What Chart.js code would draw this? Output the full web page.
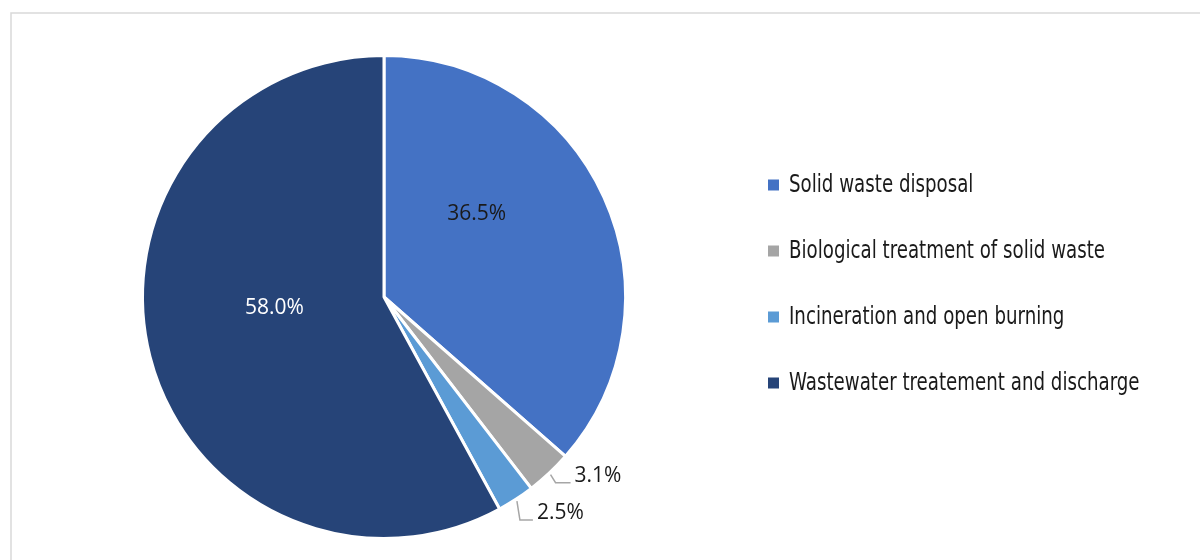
<!DOCTYPE html>
<html>
<head>
<meta charset="utf-8">
<script src="https://cdn.jsdelivr.net/npm/chart.js@4.4.1/dist/chart.umd.min.js"></script>
<style>
  html, body { margin: 0; padding: 0; background: #fff; }
  #wrap { width: 1200px; height: 560px; position: relative; }
</style>
</head>
<body>
<div id="wrap"><canvas id="c" width="1200" height="560"></canvas></div>
<script>
// ---- data ----
const categories = [
  "Solid waste disposal",
  "Biological treatment of solid waste",
  "Incineration and open burning",
  "Wastewater treatement and discharge"
];
const shares = [36.5, 3.1, 2.5, 58.0];
const valueLabels = ["36.5%", "3.1%", "2.5%", "58.0%"];
const sliceColors = ["#4472C4", "#A5A5A5", "#5B9BD5", "#264478"];

// ---- label placement (style/layout, not data) ----
const labelLayout = [
  { mode: "inside", rFrac: 0.515, angleAdj: -17.4, color: "#1a1a1a" },
  { mode: "outside", elbow: [5, 8], run: 15 },
  { mode: "outside", elbow: [3, 19], run: 13 },
  { mode: "inside", rFrac: 0.456, angleAdj: 8.5, color: "#ffffff" }
];
const labelFont = '21px "Open Sans", "Noto Sans", sans-serif';
const legendFont = '25px "DejaVu Sans Condensed", "DejaVu Sans", sans-serif';
const legendXScale = 0.81;

const framePlugin = {
  id: "frame",
  beforeDraw(chart) {
    const ctx = chart.ctx;
    ctx.save();
    ctx.fillStyle = "#ffffff";
    ctx.fillRect(0, 0, chart.width, chart.height);
    ctx.strokeStyle = "#D9D9D9";
    ctx.lineWidth = 1.5;
    ctx.beginPath();
    ctx.moveTo(11, chart.height + 2);
    ctx.lineTo(11, 13);
    ctx.lineTo(chart.width + 2, 13);
    ctx.stroke();
    ctx.restore();
  }
};

const labelsPlugin = {
  id: "pieLabels",
  afterDatasetsDraw(chart) {
    const ctx = chart.ctx;
    const meta = chart.getDatasetMeta(0);
    ctx.save();
    ctx.font = labelFont;
    meta.data.forEach((arc, i) => {
      const p = arc.getProps(["x", "y", "startAngle", "endAngle", "outerRadius"], true);
      const mid = (p.startAngle + p.endAngle) / 2;
      const L = labelLayout[i];
      if (L.mode === "inside") {
        const a = mid + L.angleAdj * Math.PI / 180;
        const r = p.outerRadius * L.rFrac;
        ctx.fillStyle = L.color;
        ctx.textAlign = "center";
        ctx.textBaseline = "middle";
        ctx.fillText(valueLabels[i], p.x + Math.cos(a) * r, p.y + Math.sin(a) * r);
      } else {
        const ex = p.x + Math.cos(mid) * (p.outerRadius + 2);
        const ey = p.y + Math.sin(mid) * (p.outerRadius + 2);
        const bx = ex + L.elbow[0], by = ey + L.elbow[1];
        ctx.strokeStyle = "#A6A6A6";
        ctx.lineWidth = 1.5;
        ctx.beginPath();
        ctx.moveTo(ex, ey);
        ctx.lineTo(bx, by);
        ctx.lineTo(bx + L.run, by);
        ctx.stroke();
        ctx.fillStyle = "#1a1a1a";
        ctx.textAlign = "left";
        ctx.textBaseline = "middle";
        ctx.fillText(valueLabels[i], bx + L.run + 4, by - 7);
      }
    });
    ctx.restore();
  }
};

const legendPlugin = {
  id: "sideLegend",
  afterDraw(chart) {
    const ctx = chart.ctx;
    const x0 = 768, y0 = 185, gap = 66, box = 11;
    ctx.save();
    ctx.font = legendFont;
    ctx.textAlign = "left";
    ctx.textBaseline = "middle";
    chart.data.labels.forEach((lab, i) => {
      const y = y0 + i * gap;
      ctx.fillStyle = chart.data.datasets[0].backgroundColor[i];
      ctx.fillRect(x0, y - box / 2, box, box);
      ctx.fillStyle = "#1a1a1a";
      ctx.save();
      ctx.translate(x0 + 21, y);
      ctx.scale(legendXScale, 1);
      ctx.fillText(lab, 0, 0);
      ctx.restore();
    });
    ctx.restore();
  }
};

new Chart(document.getElementById("c"), {
  type: "pie",
  data: {
    labels: categories,
    datasets: [{
      data: shares,
      backgroundColor: sliceColors,
      borderColor: "#ffffff",
      borderWidth: 3,
      hoverOffset: 0
    }]
  },
  options: {
    responsive: false,
    animation: false,
    devicePixelRatio: 1,
    layout: { padding: { left: 141, right: 573, top: 54, bottom: 20 } },
    plugins: {
      legend: { display: false },
      tooltip: { enabled: false }
    }
  },
  plugins: [framePlugin, labelsPlugin, legendPlugin]
});
</script>
</body>
</html>
